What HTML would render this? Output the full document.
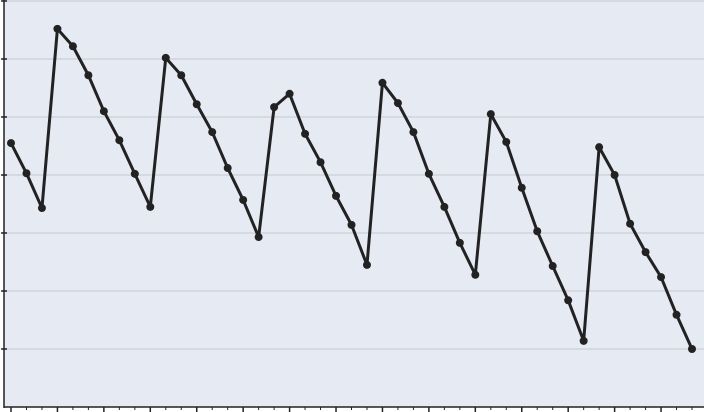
<!DOCTYPE html>
<html><head><meta charset="utf-8"><style>
html,body{margin:0;padding:0;background:#fff;}
svg{display:block;font-family:"Liberation Sans",sans-serif;}
</style></head><body>
<svg id="chart" width="704" height="412" viewBox="0 0 704 412" xmlns="http://www.w3.org/2000/svg">
<rect x="4" y="0" width="700" height="407" fill="#e6eaf2"/>
<g id="grid"></g><g id="axes"></g><g id="series"></g>
</svg>
<script>
const values = [45.5,40.3,34.3,65.2,62.2,57.2,51.0,46.0,40.2,34.5,60.2,57.2,52.2,47.4,41.2,35.7,29.3,51.7,54.0,47.1,42.2,36.4,31.4,24.5,55.9,52.4,47.4,40.2,34.5,28.3,22.8,50.5,45.7,37.8,30.3,24.3,18.4,11.4,44.8,40.0,31.6,26.7,22.4,15.9,10.0];
const yTicks = [10,20,30,40,50,60,70];
const yMin = 0, yMax = 70;
const NS = "http://www.w3.org/2000/svg";
const x = i => 11 + i * (692 - 11) / 44;
const y = v => 407 - (v - yMin) / (yMax - yMin) * 406;
function mk(tag, attrs, parent){const e=document.createElementNS(NS,tag);for(const k in attrs)e.setAttribute(k,attrs[k]);parent.appendChild(e);return e;}
const grid=document.getElementById('grid'), axes=document.getElementById('axes'), series=document.getElementById('series');
yTicks.forEach(t=>{
  const g=mk('line',{x1:4,x2:704,y1:y(t),y2:y(t),stroke:'#cfd3da','stroke-width':1.5},grid);
  
  
  const tk=mk('line',{x1:1,x2:7,y1:y(t),y2:y(t),stroke:'#222','stroke-width':1.5},axes);
  
  
});
const ya=mk('line',{x1:4,x2:4,y1:0,y2:408,stroke:'#222','stroke-width':1.5},axes);


const xa=mk('line',{x1:4,x2:704,y1:407,y2:407,stroke:'#222','stroke-width':1.5},axes);


for(let i=0;i<=46;i++){
  const major=i%3===0;
  const t=mk('line',{x1:x(i),x2:x(i),y1:407,y2:major?412:410,stroke:'#222','stroke-width':major?1.5:1},axes);
  
  
}
const pl=mk('polyline',{points:values.map((v,i)=>x(i)+','+y(v)).join(' '),fill:'none',stroke:'#222','stroke-width':3,'stroke-linejoin':'round'},series);


values.forEach((v,i)=>{
  const c=mk('circle',{cx:x(i),cy:y(v),r:4,fill:'#222'},series);
  
  
});
</script>
</body></html>
